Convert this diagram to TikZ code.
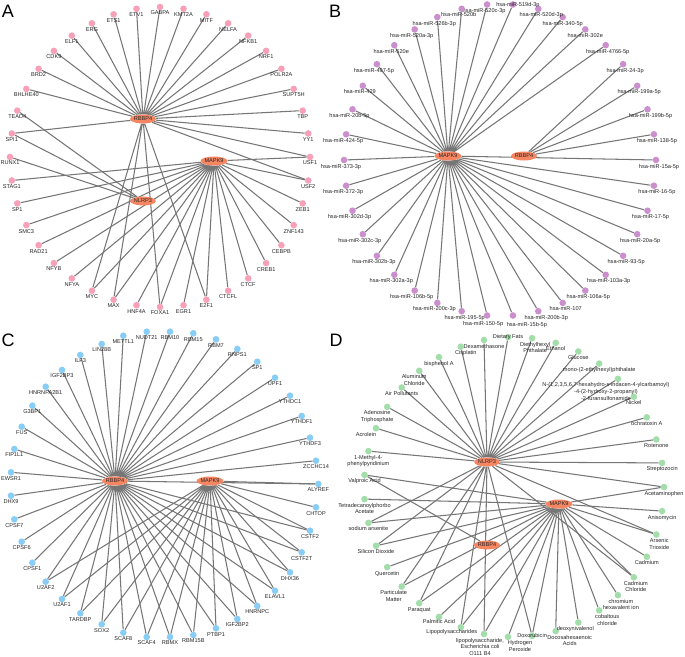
\documentclass[tikz,border=0pt]{standalone}
\usepackage{fontspec}
\setmainfont{Liberation Sans}
\usetikzlibrary{shapes.geometric,backgrounds}
\definecolor{hubred}{RGB}{246,134,98}
\definecolor{tfpink}{RGB}{247,160,184}
\definecolor{mirpurple}{RGB}{204,143,205}
\definecolor{rbpblue}{RGB}{135,205,245}
\definecolor{chemgreen}{RGB}{163,222,170}
\definecolor{edgegray}{RGB}{118,118,118}

\begin{document}
\begin{tikzpicture}[x=1pt, y=-1pt]
  \tikzstyle{myline}=[draw=edgegray, line width=1.05pt];
  \tikzstyle{mytext}=[text=black!85, align=center, inner sep=0.3pt, font=\fontsize{5.6}{6.6}\selectfont];
  \tikzstyle{hub}=[mytext, ellipse, fill=hubred, minimum width=22pt, minimum height=9pt, inner sep=0pt];
  \tikzstyle{tfdot}=[circle, fill=tfpink, minimum size=6.6pt, inner sep=0pt, label distance=0.2pt];
  \tikzstyle{mirdot}=[tfdot, fill=mirpurple];
  \tikzstyle{rbpdot}=[tfdot, fill=rbpblue];
  \tikzstyle{chemdot}=[tfdot, fill=chemgreen];
  \tikzstyle{panel}=[font=\fontsize{18}{18}\selectfont, inner sep=0pt];
  \useasboundingbox (0,0) rectangle (685,656);
  %
  % panel letters
  \node[panel] (lbl-a) at (8,11) {A};
  \node[panel] (lbl-b) at (335,11) {B};
  \node[panel] (lbl-c) at (8,340) {C};
  \node[panel] (lbl-d) at (336,340) {D};
  %
  % A: transcription factors
  \node[hub] (a-rbbp4) at (143,119) {RBBP4};
  \node[hub] (a-mapk9) at (214,161) {MAPK9};
  \node[hub] (a-nlrp3) at (143,201) {NLRP3};
  %
  \node[tfdot, label={[mytext]below:GABPA}] (a-gabpa) at (160,7) {};
  \node[tfdot, label={[mytext]below:KMT2A}] (a-kmt2a) at (183.5,8.8) {};
  \node[tfdot, label={[mytext]below:MITF}] (a-mitf) at (206.4,14.3) {};
  \node[tfdot, label={[mytext]below:NELFA}] (a-nelfa) at (228.1,23.3) {};
  \node[tfdot, label={[mytext]below:NFKB1}] (a-nfkb1) at (248.2,35.6) {};
  \node[tfdot, label={[mytext]below:NRF1}] (a-nrf1) at (266.1,50.9) {};
  \node[tfdot, label={[mytext]below:POLR2A}] (a-polr2a) at (281.4,68.8) {};
  \node[tfdot, label={[mytext]below:SUPT5H}] (a-supt5h) at (293.7,88.9) {};
  \node[tfdot, label={[mytext]below:TBP}] (a-tbp) at (302.7,110.6) {};
  \node[tfdot, label={[mytext]below:YY1}] (a-yy1) at (308.2,133.5) {};
  \node[tfdot, label={[mytext]below:USF1}] (a-usf1) at (310,157) {};
  \node[tfdot, label={[mytext]below:USF2}] (a-usf2) at (308.2,180.5) {};
  \node[tfdot, label={[mytext]below:ZEB1}] (a-zeb1) at (302.7,203.4) {};
  \node[tfdot, label={[mytext]below:ZNF143}] (a-znf143) at (293.7,225.1) {};
  \node[tfdot, label={[mytext]below:CEBPB}] (a-cebpb) at (281.4,245.2) {};
  \node[tfdot, label={[mytext]below:CREB1}] (a-creb1) at (266.1,263.1) {};
  \node[tfdot, label={[mytext]below:CTCF}] (a-ctcf) at (248.2,278.4) {};
  \node[tfdot, label={[mytext]below:CTCFL}] (a-ctcfl) at (228.1,290.7) {};
  \node[tfdot, label={[mytext]below:E2F1}] (a-e2f1) at (206.4,299.7) {};
  \node[tfdot, label={[mytext]below:EGR1}] (a-egr1) at (183.5,305.2) {};
  \node[tfdot, label={[mytext]below:FOXA1}] (a-foxa1) at (160,307) {};
  \node[tfdot, label={[mytext]below:HNF4A}] (a-hnf4a) at (136.5,305.2) {};
  \node[tfdot, label={[mytext]below:MAX}] (a-max) at (113.6,299.7) {};
  \node[tfdot, label={[mytext]below:MYC}] (a-myc) at (91.9,290.7) {};
  \node[tfdot, label={[mytext]below:NFYA}] (a-nfya) at (71.8,278.4) {};
  \node[tfdot, label={[mytext]below:NFYB}] (a-nfyb) at (53.9,263.1) {};
  \node[tfdot, label={[mytext]below:RAD21}] (a-rad21) at (38.6,245.2) {};
  \node[tfdot, label={[mytext]below:SMC3}] (a-smc3) at (26.3,225.1) {};
  \node[tfdot, label={[mytext]below:SP1}] (a-sp1) at (17.3,203.4) {};
  \node[tfdot, label={[mytext]below:STAG1}] (a-stag1) at (11.8,180.5) {};
  \node[tfdot, label={[mytext]below:RUNX1}] (a-runx1) at (10,157) {};
  \node[tfdot, label={[mytext]below:SPI1}] (a-spi1) at (11.8,133.5) {};
  \node[tfdot, label={[mytext]below:TEAD4}] (a-tead4) at (17.3,110.6) {};
  \node[tfdot, label={[mytext]below:BHLHE40}] (a-bhlhe40) at (26.3,88.9) {};
  \node[tfdot, label={[mytext]below:BRD2}] (a-brd2) at (38.6,68.8) {};
  \node[tfdot, label={[mytext]below:CDK9}] (a-cdk9) at (53.9,50.9) {};
  \node[tfdot, label={[mytext]below:ELF1}] (a-elf1) at (71.8,35.6) {};
  \node[tfdot, label={[mytext]below:ERG}] (a-erg) at (91.9,23.3) {};
  \node[tfdot, label={[mytext]below:ETS1}] (a-ets1) at (113.6,14.3) {};
  \node[tfdot, label={[mytext]below:ETV1}] (a-etv1) at (136.5,8.8) {};
  %
  % B: microRNAs
  \node[hub] (b-mapk9) at (448,156) {MAPK9};
  \node[hub] (b-rbbp4) at (524,156) {RBBP4};
  %
  \node[mirdot, label={[mytext, xshift=3pt]below:hsa-miR-15a-5p}] (b-15a) at (656,160) {};
  \node[mirdot, label={[mytext, xshift=3pt]below:hsa-miR-138-5p}] (b-138) at (653.9,134.3) {};
  \node[mirdot, label={[mytext, xshift=3pt]below:hsa-miR-199b-5p}] (b-199b) at (647.5,109.3) {};
  \node[mirdot, label={[mytext, xshift=2pt]below:hsa-miR-199a-5p}] (b-199a) at (637.2,85.8) {};
  \node[mirdot, label={[mytext, xshift=2pt]below:hsa-miR-24-3p}] (b-24) at (623.1,64.2) {};
  \node[mirdot, label={[mytext, xshift=2pt]below:hsa-miR-4766-5p}] (b-4766) at (605.7,45.2) {};
  \node[mirdot, label={[mytext]below:hsa-miR-302e}] (b-302e) at (585.3,29.4) {};
  \node[mirdot, label={[mytext]below:hsa-miR-340-5p}] (b-340) at (562.7,17.1) {};
  \node[mirdot, label={[mytext, xshift=3pt]below:hsa-miR-520d-3p}] (b-520d) at (538.3,8.8) {};
  \node[mirdot, label={[mytext, xshift=5pt, yshift=-1pt]center:hsa-miR-519d-3p}] (b-519d) at (512.9,4.5) {};
  \node[mirdot, label={[mytext, xshift=-3pt]below:hsa-miR-520c-3p}] (b-520c) at (487.1,4.5) {};
  \node[mirdot, label={[mytext, xshift=-3pt]below:hsa-miR-520b}] (b-520b) at (461.7,8.8) {};
  \node[mirdot, label={[mytext, xshift=-3pt]below:hsa-miR-526b-3p}] (b-526b) at (437.3,17.1) {};
  \node[mirdot, label={[mytext, xshift=-3pt]below:hsa-miR-520a-3p}] (b-520a) at (414.7,29.4) {};
  \node[mirdot, label={[mytext, xshift=-3pt]below:hsa-miR-520e}] (b-520e) at (394.3,45.2) {};
  \node[mirdot, label={[mytext, xshift=-3pt]below:hsa-miR-497-5p}] (b-497) at (376.9,64.2) {};
  \node[mirdot, label={[mytext, xshift=-3pt]below:hsa-miR-429}] (b-429) at (362.8,85.8) {};
  \node[mirdot, label={[mytext, xshift=-3pt]below:hsa-miR-20b-5p}] (b-20b) at (352.5,109.3) {};
  \node[mirdot, label={[mytext, xshift=-3pt]below:hsa-miR-424-5p}] (b-424) at (346.1,134.3) {};
  \node[mirdot, label={[mytext, xshift=-3pt]below:hsa-miR-373-3p}] (b-373) at (344,160) {};
  \node[mirdot, label={[mytext, xshift=-3pt]below:hsa-miR-372-3p}] (b-372) at (346.1,185.7) {};
  \node[mirdot, label={[mytext, xshift=-3pt]below:hsa-miR-302d-3p}] (b-302d) at (352.5,210.7) {};
  \node[mirdot, label={[mytext, xshift=-3pt]below:hsa-miR-302c-3p}] (b-302c) at (362.8,234.2) {};
  \node[mirdot, label={[mytext, xshift=-3pt]below:hsa-miR-302b-3p}] (b-302b) at (376.9,255.8) {};
  \node[mirdot, label={[mytext, xshift=-3pt]below:hsa-miR-302a-3p}] (b-302a) at (394.3,274.8) {};
  \node[mirdot, label={[mytext, xshift=-3pt]below:hsa-miR-106b-5p}] (b-106b) at (414.7,290.6) {};
  \node[mirdot, label={[mytext, xshift=-3pt]below:hsa-miR-200c-3p}] (b-200c) at (437.3,302.9) {};
  \node[mirdot, label={[mytext, xshift=3pt]below:hsa-miR-195-5p}] (b-195) at (461.7,311.2) {};
  \node[mirdot, label={[mytext, xshift=-4pt, yshift=-1.5pt]below:hsa-miR-150-5p}] (b-150) at (487.1,315.5) {};
  \node[mirdot, label={[mytext, xshift=14pt, yshift=-2.5pt]below:hsa-miR-15b-5p}] (b-15b) at (512.9,315.5) {};
  \node[mirdot, label={[mytext, xshift=8pt]below:hsa-miR-200b-3p}] (b-200b) at (538.3,311.2) {};
  \node[mirdot, label={[mytext, xshift=3pt]below:hsa-miR-107}] (b-107) at (562.7,302.9) {};
  \node[mirdot, label={[mytext, xshift=3pt]below:hsa-miR-106a-5p}] (b-106a) at (585.3,290.6) {};
  \node[mirdot, label={[mytext, xshift=3pt]below:hsa-miR-103a-3p}] (b-103a) at (605.7,274.8) {};
  \node[mirdot, label={[mytext, xshift=3pt]below:hsa-miR-93-5p}] (b-93) at (623.1,255.8) {};
  \node[mirdot, label={[mytext, xshift=3pt]below:hsa-miR-20a-5p}] (b-20a) at (637.2,234.2) {};
  \node[mirdot, label={[mytext, xshift=3pt]below:hsa-miR-17-5p}] (b-17) at (647.5,210.7) {};
  \node[mirdot, label={[mytext, xshift=3pt]below:hsa-miR-16-5p}] (b-16) at (653.9,185.7) {};
  %
  % C: RNA binding proteins
  \node[hub] (c-rbbp4) at (115,481) {RBBP4};
  \node[hub] (c-mapk9) at (210,481) {MAPK9};
  %
  \node[rbpdot, label={[mytext]below:NUDT21}] (c-nudt21) at (146.7,331.7) {};
  \node[rbpdot, label={[mytext]below:RBM10}] (c-rbm10) at (170,331.7) {};
  \node[rbpdot, label={[mytext]below:RBM15}] (c-rbm15) at (193.3,333.3) {};
  \node[rbpdot, label={[mytext]below:RBM7}] (c-rbm7) at (216,339.3) {};
  \node[rbpdot, label={[mytext]below:RNPS1}] (c-rnps1) at (237.3,349) {};
  \node[rbpdot, label={[mytext]below:SP1}] (c-sp1) at (257.3,361.7) {};
  \node[rbpdot, label={[mytext]below:UPF1}] (c-upf1) at (275,377.7) {};
  \node[rbpdot, label={[mytext]below:YTHDC1}] (c-ythdc1) at (290,395.7) {};
  \node[rbpdot, label={[mytext]below:YTHDF1}] (c-ythdf1) at (301.7,416) {};
  \node[rbpdot, label={[mytext]below:YTHDF3}] (c-ythdf3) at (310,437.7) {};
  \node[rbpdot, label={[mytext]below:ZCCHC14}] (c-zcchc14) at (316,460.7) {};
  \node[rbpdot, label={[mytext]below:ALYREF}] (c-alyref) at (318.3,484) {};
  \node[rbpdot, label={[mytext]below:CHTOP}] (c-chtop) at (316,507.3) {};
  \node[rbpdot, label={[mytext]below:CSTF2}] (c-cstf2) at (310,530.7) {};
  \node[rbpdot, label={[mytext]below:CSTF2T}] (c-cstf2t) at (301.7,552.3) {};
  \node[rbpdot, label={[mytext]below:DHX36}] (c-dhx36) at (290,572.3) {};
  \node[rbpdot, label={[mytext]below:ELAVL1}] (c-elavl1) at (275,590.7) {};
  \node[rbpdot, label={[mytext]below:HNRNPC}] (c-hnrnpc) at (257.3,606) {};
  \node[rbpdot, label={[mytext]below:IGF2BP2}] (c-igf2bp2) at (237.3,619) {};
  \node[rbpdot, label={[mytext]below:PTBP1}] (c-ptbp1) at (216,628.3) {};
  \node[rbpdot, label={[mytext]below:RBM15B}] (c-rbm15b) at (193.3,635) {};
  \node[rbpdot, label={[mytext]below:RBMX}] (c-rbmx) at (170,637) {};
  \node[rbpdot, label={[mytext]below:SCAF4}] (c-scaf4) at (146.7,637) {};
  \node[rbpdot, label={[mytext]below:SCAF8}] (c-scaf8) at (123.3,632.7) {};
  \node[rbpdot, label={[mytext]below:SOX2}] (c-sox2) at (101.7,624.3) {};
  \node[rbpdot, label={[mytext]below:TARDBP}] (c-tardbp) at (80.3,613.3) {};
  \node[rbpdot, label={[mytext]below:U2AF1}] (c-u2af1) at (62,599) {};
  \node[rbpdot, label={[mytext]below:U2AF2}] (c-u2af2) at (45.7,581.7) {};
  \node[rbpdot, label={[mytext]below:CPSF1}] (c-cpsf1) at (32.3,562.7) {};
  \node[rbpdot, label={[mytext]below:CPSF6}] (c-cpsf6) at (21.7,541.7) {};
  \node[rbpdot, label={[mytext]below:CPSF7}] (c-cpsf7) at (14.3,519.3) {};
  \node[rbpdot, label={[mytext]below:DHX9}] (c-dhx9) at (11,495.7) {};
  \node[rbpdot, label={[mytext]below:EWSR1}] (c-ewsr1) at (11,472.3) {};
  \node[rbpdot, label={[mytext]below:FIP1L1}] (c-fip1l1) at (14.3,449) {};
  \node[rbpdot, label={[mytext]below:FUS}] (c-fus) at (21.7,426.7) {};
  \node[rbpdot, label={[mytext]below:G3BP1}] (c-g3bp1) at (32.3,405.7) {};
  \node[rbpdot, label={[mytext]below:HNRNPA2B1}] (c-hnrnpa2b1) at (45.7,386.7) {};
  \node[rbpdot, label={[mytext]below:IGF2BP3}] (c-igf2bp3) at (62,370) {};
  \node[rbpdot, label={[mytext]below:ILF3}] (c-ilf3) at (80.3,355) {};
  \node[rbpdot, label={[mytext]below:LIN28B}] (c-lin28b) at (101.7,344) {};
  \node[rbpdot, label={[mytext]below:METTL1}] (c-mettl1) at (123.3,335.7) {};
  %
  % D: chemicals
  \node[hub] (d-nlrp3) at (487,462) {NLRP3};
  \node[hub] (d-mapk9) at (559,504) {MAPK9};
  \node[hub] (d-rbbp4) at (487,545) {RBBP4};
  %
  \node[chemdot, label={[mytext]center:Dietary Fats}] (d-fats) at (508,337.1) {};
  \node[chemdot, label={[mytext]below:Dexamethasone}] (d-dexa) at (484,340) {};
  \node[chemdot, label={[mytext, xshift=5pt]below:Cisplatin}] (d-cispl) at (460.8,346.7) {};
  \node[chemdot, label={[mytext]below:bisphenol A}] (d-bpa) at (439,357.1) {};
  \node[chemdot, label={[mytext, xshift=-5pt]below:{Aluminum\\Chloride}}] (d-alcl) at (419.2,370.8) {};
  \node[chemdot, label={[mytext]below:Air Pollutants}] (d-air) at (401.7,387.5) {};
  \node[chemdot, label={[mytext, xshift=-10pt]below:{Adenosine\\Triphosphate}}] (d-atp) at (387.2,406.9) {};
  \node[chemdot, label={[mytext, xshift=-10pt]below:Acrolein}] (d-acro) at (376,428.2) {};
  \node[chemdot, label={[mytext]below:{1-Methyl-4-\\phenylpyridinium}}] (d-mpp) at (368.4,451.1) {};
  \node[chemdot, label={[mytext]below:Valproic Acid}] (d-valpro) at (364.5,474.9) {};
  \node[chemdot, label={[mytext]below:{Tetradecanoylphorbo\\Acetate}}] (d-tpa) at (364.5,499.1) {};
  \node[chemdot, label={[mytext]below:sodium arsenite}] (d-naas) at (368.4,522.9) {};
  \node[chemdot, label={[mytext]below:Silicon Dioxide}] (d-sio2) at (376,545.8) {};
  \node[chemdot, label={[mytext]below:Quercetin}] (d-querc) at (387.2,567.1) {};
  \node[chemdot, label={[mytext, xshift=-8pt]below:{Particulate\\Matter}}] (d-pm) at (401.7,586.5) {};
  \node[chemdot, label={[mytext]below:Paraquat}] (d-paraq) at (419.2,603.2) {};
  \node[chemdot, label={[mytext, yshift=1.5pt]below:Palmitic Acid}] (d-palm) at (439,616.9) {};
  \node[chemdot, label={[mytext, xshift=-9pt, yshift=2pt]below:Lipopolysaccharides}] (d-lps) at (460.8,627.3) {};
  \node[chemdot, label={[mytext, xshift=-4pt]below:{lipopolysaccharide,\\Escherichia coli\\O111 B4}}] (d-lpsec) at (484,634) {};
  \node[chemdot, label={[mytext, xshift=12pt]below:{Hydrogen\\Peroxide}}] (d-h2o2) at (508,636.9) {};
  \node[chemdot, label={[mytext]center:Doxorubicin}] (d-doxo) at (532.1,635.9) {};
  \node[chemdot, label={[mytext, xshift=14pt]below:{Docosahexaenoic\\Acids}}] (d-dha) at (555.7,631.1) {};
  \node[chemdot, label={[mytext, xshift=-3pt]below:deoxynivalenol}] (d-don) at (578.3,622.5) {};
  \node[chemdot, label={[mytext, xshift=8pt]below:{cobaltous\\chloride}}] (d-cocl) at (599.2,610.4) {};
  \node[chemdot, label={[mytext, xshift=3pt]below:{chromium\\hexavalent ion}}] (d-cr6) at (617.9,595.2) {};
  \node[chemdot, label={[mytext, xshift=2pt]below:{Cadmium\\Chloride}}] (d-cdcl) at (633.8,577.3) {};
  \node[chemdot, label={[mytext]below:Cadmium}] (d-cd) at (646.8,556.7) {};
  \node[chemdot, label={[mytext, xshift=3pt]below:{Arsenic\\Trioxide}}] (d-as2o3) at (656.3,534.5) {};
  \node[chemdot, label={[mytext]below:Anisomycin}] (d-aniso) at (662.1,511.1) {};
  \node[chemdot, label={[mytext]below:Acetaminophen}] (d-apap) at (664,487) {};
  \node[chemdot, label={[mytext]below:Streptozocin}] (d-stz) at (662.1,462.9) {};
  \node[chemdot, label={[mytext]below:Rotenone}] (d-roten) at (656.3,439.5) {};
  \node[chemdot, label={[mytext]below:ochratoxin A}] (d-ota) at (646.8,417.3) {};
  \node[chemdot, label={[mytext]below:Nickel}] (d-ni) at (633.8,396.7) {};
  \node[chemdot, label={[mytext, xshift=-12pt]below:{N-(1,2,3,5,6,7-hexahydro-s-indacen-4-ylcarbamoyl)\\-4-(2-hydroxy-2-propanyl)\\-2-furansulfonamide}}] (d-mcc) at (617.9,378.8) {};
  \node[chemdot, label={[mytext]below:mono-(2-ethylhexyl)phthalate}] (d-mehp) at (599.2,363.6) {};
  \node[chemdot, label={[mytext]below:Glucose}] (d-gluc) at (578.3,351.5) {};
  \node[chemdot, label={[mytext]below:Ethanol}] (d-etoh) at (555.7,342.9) {};
  \node[chemdot, label={[mytext, xshift=3pt]below:{Diethylhexyl\\Phthalate}}] (d-dehp) at (532.1,338.1) {};
  %
  % connectors
  \begin{pgfonlayer}{background}
    \fill[white] (0,0) rectangle (685,656);
    % A
    \draw[myline] (a-rbbp4) -- (a-spi1) (a-rbbp4) -- (a-bhlhe40) (a-rbbp4) -- (a-brd2)
      (a-rbbp4) -- (a-cdk9) (a-rbbp4) -- (a-elf1) (a-rbbp4) -- (a-erg)
      (a-rbbp4) -- (a-ets1) (a-rbbp4) -- (a-etv1) (a-rbbp4) -- (a-gabpa)
      (a-rbbp4) -- (a-kmt2a) (a-rbbp4) -- (a-mitf) (a-rbbp4) -- (a-nelfa)
      (a-rbbp4) -- (a-nfkb1) (a-rbbp4) -- (a-nrf1) (a-rbbp4) -- (a-polr2a)
      (a-rbbp4) -- (a-supt5h) (a-rbbp4) -- (a-tbp) (a-rbbp4) -- (a-yy1)
      (a-rbbp4) -- (a-usf1) (a-rbbp4) -- (a-usf2) (a-rbbp4) -- (a-myc)
      (a-rbbp4) -- (a-max) (a-rbbp4) -- (a-foxa1) (a-rbbp4) -- (a-e2f1);
    \draw[myline] (a-mapk9) -- (a-stag1) (a-mapk9) -- (a-sp1) (a-mapk9) -- (a-smc3)
      (a-mapk9) -- (a-rad21) (a-mapk9) -- (a-nfyb) (a-mapk9) -- (a-nfya)
      (a-mapk9) -- (a-myc) (a-mapk9) -- (a-max) (a-mapk9) -- (a-hnf4a)
      (a-mapk9) -- (a-foxa1) (a-mapk9) -- (a-egr1) (a-mapk9) -- (a-e2f1)
      (a-mapk9) -- (a-ctcfl) (a-mapk9) -- (a-ctcf) (a-mapk9) -- (a-creb1)
      (a-mapk9) -- (a-cebpb) (a-mapk9) -- (a-znf143) (a-mapk9) -- (a-zeb1)
      (a-mapk9) -- (a-usf2) (a-mapk9) -- (a-usf1);
    \draw[myline] (a-nlrp3) -- (a-tead4) (a-nlrp3) -- (a-spi1) (a-nlrp3) -- (a-runx1);
    % B
    \draw[myline] (b-rbbp4) -- (b-24) (b-rbbp4) -- (b-199a) (b-rbbp4) -- (b-199b)
      (b-rbbp4) -- (b-138);
    \draw[myline] (b-mapk9) -- (b-15a) (b-mapk9) -- (b-4766) (b-mapk9) -- (b-302e)
      (b-mapk9) -- (b-340) (b-mapk9) -- (b-520d) (b-mapk9) -- (b-519d)
      (b-mapk9) -- (b-520c) (b-mapk9) -- (b-520b) (b-mapk9) -- (b-526b)
      (b-mapk9) -- (b-520a) (b-mapk9) -- (b-520e) (b-mapk9) -- (b-497)
      (b-mapk9) -- (b-429) (b-mapk9) -- (b-20b) (b-mapk9) -- (b-424)
      (b-mapk9) -- (b-373) (b-mapk9) -- (b-372) (b-mapk9) -- (b-302d)
      (b-mapk9) -- (b-302c) (b-mapk9) -- (b-302b) (b-mapk9) -- (b-302a)
      (b-mapk9) -- (b-106b) (b-mapk9) -- (b-200c) (b-mapk9) -- (b-195)
      (b-mapk9) -- (b-150) (b-mapk9) -- (b-15b) (b-mapk9) -- (b-200b)
      (b-mapk9) -- (b-107) (b-mapk9) -- (b-106a) (b-mapk9) -- (b-103a)
      (b-mapk9) -- (b-93) (b-mapk9) -- (b-20a) (b-mapk9) -- (b-17)
      (b-mapk9) -- (b-16);
    % C
    \draw[myline] (c-rbbp4) -- (c-nudt21) (c-rbbp4) -- (c-rbm10) (c-rbbp4) -- (c-rbm15)
      (c-rbbp4) -- (c-rbm7) (c-rbbp4) -- (c-rnps1) (c-rbbp4) -- (c-sp1)
      (c-rbbp4) -- (c-upf1) (c-rbbp4) -- (c-ythdc1) (c-rbbp4) -- (c-ythdf1)
      (c-rbbp4) -- (c-ythdf3) (c-rbbp4) -- (c-zcchc14) (c-rbbp4) -- (c-alyref)
      (c-rbbp4) -- (c-cstf2) (c-rbbp4) -- (c-cstf2t) (c-rbbp4) -- (c-dhx36)
      (c-rbbp4) -- (c-elavl1) (c-rbbp4) -- (c-hnrnpc) (c-rbbp4) -- (c-igf2bp2)
      (c-rbbp4) -- (c-ptbp1) (c-rbbp4) -- (c-rbm15b) (c-rbbp4) -- (c-rbmx)
      (c-rbbp4) -- (c-scaf4) (c-rbbp4) -- (c-scaf8) (c-rbbp4) -- (c-sox2)
      (c-rbbp4) -- (c-tardbp) (c-rbbp4) -- (c-u2af1) (c-rbbp4) -- (c-u2af2)
      (c-rbbp4) -- (c-cpsf1) (c-rbbp4) -- (c-cpsf6) (c-rbbp4) -- (c-cpsf7)
      (c-rbbp4) -- (c-dhx9) (c-rbbp4) -- (c-ewsr1) (c-rbbp4) -- (c-fip1l1)
      (c-rbbp4) -- (c-fus) (c-rbbp4) -- (c-g3bp1) (c-rbbp4) -- (c-hnrnpa2b1)
      (c-rbbp4) -- (c-igf2bp3) (c-rbbp4) -- (c-ilf3) (c-rbbp4) -- (c-lin28b)
      (c-rbbp4) -- (c-mettl1);
    \draw[myline] (c-mapk9) -- (c-alyref) (c-mapk9) -- (c-chtop) (c-mapk9) -- (c-cstf2)
      (c-mapk9) -- (c-cstf2t) (c-mapk9) -- (c-dhx36) (c-mapk9) -- (c-elavl1)
      (c-mapk9) -- (c-hnrnpc) (c-mapk9) -- (c-igf2bp2) (c-mapk9) -- (c-ptbp1)
      (c-mapk9) -- (c-rbm15b) (c-mapk9) -- (c-rbmx) (c-mapk9) -- (c-scaf4)
      (c-mapk9) -- (c-scaf8) (c-mapk9) -- (c-sox2) (c-mapk9) -- (c-tardbp)
      (c-mapk9) -- (c-u2af1) (c-mapk9) -- (c-u2af2);
    % D
    \draw[myline] (d-nlrp3) -- (d-fats) (d-nlrp3) -- (d-dexa) (d-nlrp3) -- (d-cispl)
      (d-nlrp3) -- (d-bpa) (d-nlrp3) -- (d-alcl) (d-nlrp3) -- (d-air)
      (d-nlrp3) -- (d-atp) (d-nlrp3) -- (d-acro) (d-nlrp3) -- (d-mpp)
      (d-nlrp3) -- (d-naas) (d-nlrp3) -- (d-sio2) (d-nlrp3) -- (d-pm)
      (d-nlrp3) -- (d-paraq) (d-nlrp3) -- (d-lps) (d-nlrp3) -- (d-lpsec)
      (d-nlrp3) -- (d-doxo) (d-nlrp3) -- (d-cdcl) (d-nlrp3) -- (d-as2o3)
      (d-nlrp3) -- (d-apap) (d-nlrp3) -- (d-stz) (d-nlrp3) -- (d-roten)
      (d-nlrp3) -- (d-ota) (d-nlrp3) -- (d-ni) (d-nlrp3) -- (d-mcc)
      (d-nlrp3) -- (d-mehp) (d-nlrp3) -- (d-gluc) (d-nlrp3) -- (d-etoh)
      (d-nlrp3) -- (d-dehp);
    \draw[myline] (d-mapk9) -- (d-valpro) (d-mapk9) -- (d-tpa) (d-mapk9) -- (d-naas)
      (d-mapk9) -- (d-sio2) (d-mapk9) -- (d-querc) (d-mapk9) -- (d-pm)
      (d-mapk9) -- (d-paraq) (d-mapk9) -- (d-palm) (d-mapk9) -- (d-lps)
      (d-mapk9) -- (d-lpsec) (d-mapk9) -- (d-h2o2) (d-mapk9) -- (d-doxo)
      (d-mapk9) -- (d-dha) (d-mapk9) -- (d-don) (d-mapk9) -- (d-cocl)
      (d-mapk9) -- (d-cr6) (d-mapk9) -- (d-cdcl) (d-mapk9) -- (d-cd)
      (d-mapk9) -- (d-as2o3) (d-mapk9) -- (d-aniso) (d-mapk9) -- (d-apap);
    \draw[myline] (d-rbbp4) -- (d-valpro);
  \end{pgfonlayer}
\end{tikzpicture}
\end{document}
